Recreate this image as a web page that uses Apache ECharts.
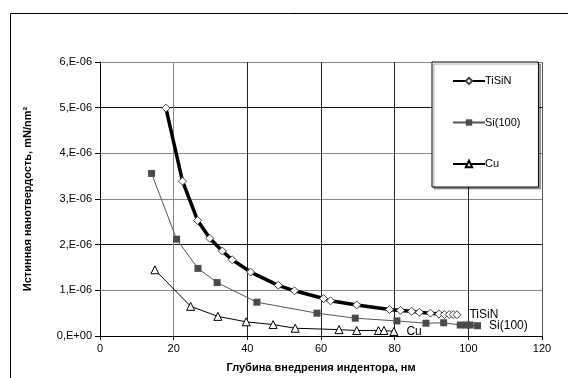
<!DOCTYPE html>
<html><head><meta charset="utf-8">
<script src="https://cdn.jsdelivr.net/npm/echarts@6/dist/echarts.min.js"></script>
<style>html,body{margin:0;padding:0;background:#fff}#c{width:568px;height:378px}</style>
</head><body><div id="c"></div>
<script>
// Depth (nm) and true nanohardness (mN/nm^2)
const tisinX = [17.9,22.4,26.5,29.8,33.2,35.9,40.9,48.4,52.8,60.7,62.6,69.7,78.6,81.6,84.6,86.7,89.7,92.0,93.5,94.8,95.9,96.9];
const tisinY = [4.99e-6,3.39e-6,2.53e-6,2.14e-6,1.86e-6,1.67e-6,1.40e-6,1.11e-6,0.99e-6,0.82e-6,0.77e-6,0.68e-6,0.58e-6,0.56e-6,0.54e-6,0.52e-6,0.50e-6,0.48e-6,0.47e-6,0.47e-6,0.47e-6,0.465e-6];
const siX = [14.0,20.8,26.6,31.8,42.6,58.9,69.3,80.6,88.5,93.3,97.8,99.4,100.5,102.5];
const siY = [3.56e-6,2.12e-6,1.48e-6,1.17e-6,0.74e-6,0.50e-6,0.39e-6,0.33e-6,0.28e-6,0.29e-6,0.24e-6,0.24e-6,0.24e-6,0.225e-6];
const cuX = [14.9,24.6,32.0,39.7,47.0,53.0,64.9,69.7,75.6,77.1,79.8];
const cuY = [1.45e-6,0.65e-6,0.43e-6,0.31e-6,0.25e-6,0.17e-6,0.14e-6,0.12e-6,0.12e-6,0.12e-6,0.10e-6];
const seriesNames = ['TiSiN','Si(100)','Cu'];
const yTickLabels = ['0,E+00','1,E-06','2,E-06','3,E-06','4,E-06','5,E-06','6,E-06'];
const xTitle = 'Глубина внедрения индентора, нм';
const yTitle = 'Истинная нанотвердость, mN/nm²';

function pts(xs, ys, name) {
  return xs.map((x, i) => {
    const d = {value: [x, ys[i]]};
    if (i === xs.length - 1) {
      d.label = {show: true, position: 'right', distance: 8, formatter: name,
        fontFamily: 'Liberation Sans, Arial', fontSize: 12, color: '#000'};
    }
    return d;
  });
}
const FONT = 'Liberation Sans, Arial, sans-serif';
const chart = echarts.init(document.getElementById('c'), null, {renderer: 'canvas'});
chart.setOption({
  animation: false,
  backgroundColor: '#fff',
  graphic: [{type: 'rect', left: 8, top: 11, shape: {width: 559, height: 380},
    style: {fill: 'none', stroke: '#000', lineWidth: 1}, z: -10}],
  grid: {left: 100, top: 62, right: 26, bottom: 41},
  legend: {
    orient: 'vertical', left: 432, top: 62,
    padding: [13.5, 18, 17.5, 20], itemGap: 30.5, itemWidth: 32, itemHeight: 8,
    borderColor: '#000', borderWidth: 1, backgroundColor: '#fff',
    shadowColor: 'rgba(0,0,0,0.35)', shadowOffsetX: 2, shadowOffsetY: 2, shadowBlur: 0,
    textStyle: {fontFamily: FONT, fontSize: 11, color: '#000', padding: [0,0,0,-5]},
    data: seriesNames
  },
  xAxis: {
    type: 'value', min: 0, max: 120, interval: 20,
    name: xTitle, nameLocation: 'middle', nameGap: 26,
    nameTextStyle: {fontFamily: FONT, fontSize: 11, fontWeight: 'bold', color: '#000'},
    axisLine: {onZero: false, lineStyle: {color: '#000', width: 1}},
    axisTick: {show: true, inside: false, length: 4, lineStyle: {color: '#000'}},
    axisLabel: {fontFamily: FONT, fontSize: 11, color: '#000', margin: 7},
    splitLine: {show: true, lineStyle: {color: ['#000','#888','#222','#222','#222','#222','#555'], width: 1}}
  },
  yAxis: {
    type: 'value', min: 0, max: 6e-6, interval: 1e-6,
    name: yTitle, nameLocation: 'middle', nameGap: 67, nameRotate: 90,
    nameTextStyle: {fontFamily: FONT, fontSize: 11, fontWeight: 'bold', color: '#000'},
    axisLine: {show: true, lineStyle: {color: '#000', width: 1}},
    axisTick: {show: true, inside: false, length: 5, lineStyle: {color: '#000'}},
    axisLabel: {fontFamily: FONT, fontSize: 11, color: '#000', margin: 8,
      formatter: v => yTickLabels[Math.round(v / 1e-6)]},
    splitLine: {show: true, lineStyle: {color: ['#000','#888','#111','#888','#888','#111','#888'], width: 1}}
  },
  series: [
    {name: seriesNames[0], type: 'line', data: pts(tisinX, tisinY, 'TiSiN'),
      lineStyle: {color: '#000', width: 3.5}, symbol: 'diamond', symbolSize: 8,
      itemStyle: {color: '#fff', borderColor: '#444', borderWidth: 1}, z: 5},
    {name: seriesNames[1], type: 'line', data: pts(siX, siY, 'Si(100)'),
      lineStyle: {color: '#555', width: 1}, symbol: 'rect', symbolSize: 7,
      itemStyle: {color: '#4a4a4a', borderColor: '#4a4a4a', borderWidth: 0}, z: 4},
    {name: seriesNames[2], type: 'line', data: pts(cuX, cuY, 'Cu'),
      lineStyle: {color: '#000', width: 1}, symbol: 'triangle', symbolSize: 8,
      itemStyle: {color: '#fff', borderColor: '#000', borderWidth: 1}, z: 3}
  ]
});
</script></body></html>
